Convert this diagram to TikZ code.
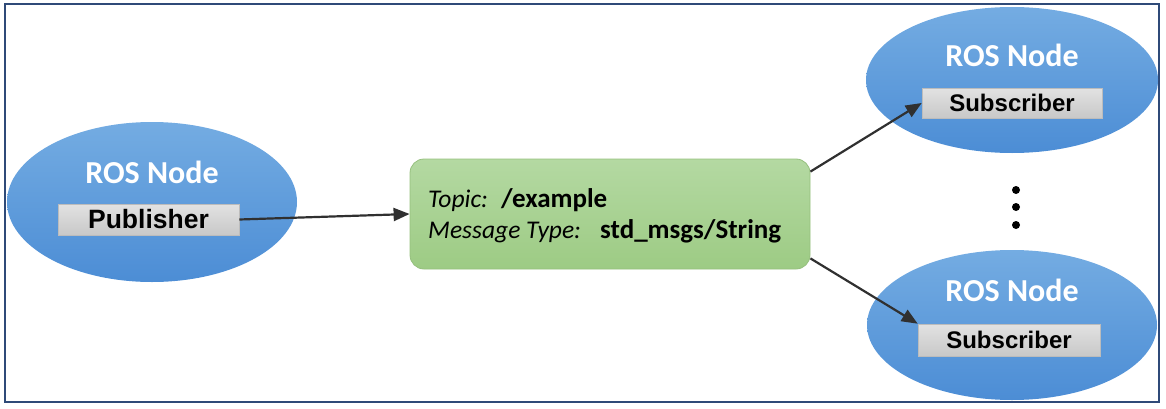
\documentclass[tikz,border=0pt]{standalone}
\usepackage{fontspec}
\setmainfont{Carlito}
\newfontfamily\arialfont{Liberation Sans}
\usetikzlibrary{shapes.geometric,arrows.meta}
\definecolor{frameblue}{HTML}{2F4A78}
\definecolor{bluetop}{HTML}{74ACE2}
\definecolor{bluebot}{HTML}{4C8DD5}
\definecolor{graytop}{HTML}{E2E2E2}
\definecolor{graybot}{HTML}{C8C8C8}
\definecolor{grayedge}{HTML}{BCBCBC}
\definecolor{greentop}{HTML}{B4D9A2}
\definecolor{greenbot}{HTML}{9DCB84}
\definecolor{greenedge}{HTML}{96C07E}
\definecolor{arrowgray}{HTML}{303030}
\tikzset{
  rosnode/.style={ellipse, inner sep=0pt, top color=bluetop, bottom color=bluebot, draw=none},
  rostitle/.style={text=white, font=\fontsize{32}{34}\selectfont\bfseries, inner sep=0pt},
  rolebox/.style={rectangle, inner sep=0pt, top color=graytop, bottom color=graybot, draw=grayedge, line width=0.6pt, font=\arialfont\fontsize{24}{26}\selectfont\bfseries, text=black},
  topicbox/.style={rectangle, rounded corners=14pt, inner sep=0pt, top color=greentop, bottom color=greenbot, draw=greenedge, line width=0.8pt},
  lbl/.style={anchor=base west, inner sep=0pt, font=\fontsize{25.5}{27}\selectfont\itshape},
  val/.style={anchor=base west, inner sep=0pt, font=\fontsize{27}{29}\selectfont\bfseries},
  conn/.style={draw=arrowgray, line width=2.2pt, -{Triangle[length=16pt,width=13pt]}},
  dotmark/.style={circle, fill=black, inner sep=0pt, minimum size=8pt}
}
\begin{document}
\begin{tikzpicture}[x=1pt,y=1pt]
\useasboundingbox (0,0) rectangle (1166,408);
\node[draw=frameblue, line width=1.6pt, rectangle, inner sep=0pt, minimum width=1154pt, minimum height=398pt] (frame) at (582,205) {};
% left node
\node[rosnode, minimum width=290pt, minimum height=160pt] (n1) at (152,206) {};
\node[rostitle] (t1) at (152,236) {ROS Node};
\node[rolebox, minimum width=181pt, minimum height=31pt, font=\arialfont\fontsize{26.5}{28}\selectfont\bfseries] (pub) at (148.5,188.5) {Publisher};
% topic
\node[topicbox, minimum width=400pt, minimum height=110pt] (topic) at (610,194) {};
\node[lbl] (tl1) at (428,201) {Topic:};
\node[val] (tv1) at (501,201) {/example};
\node[lbl] (tl2) at (428,170) {Message Type:};
\node[val] (tv2) at (600,170) {std\_msgs/String};
% top right
\node[rosnode, minimum width=292pt, minimum height=146pt] (n2) at (1012,328) {};
\node[rostitle] (t2) at (1012,353) {ROS Node};
\node[rolebox, minimum width=180pt, minimum height=30pt] (sub1) at (1012,305) {Subscriber};
% bottom right
\node[rosnode, minimum width=290pt, minimum height=150pt] (n3) at (1012,83) {};
\node[rostitle] (t3) at (1012,118) {ROS Node};
\node[rolebox, minimum width=182pt, minimum height=32pt] (sub2) at (1009,68) {Subscriber};
% dots
\node[dotmark] (d1) at (1016,218) {};
\node[dotmark] (d2) at (1016,201) {};
\node[dotmark] (d3) at (1016,183) {};
% connectors
\draw[conn] (pub.east) -- (topic.west);
\draw[conn] ([yshift=-13pt]topic.north east) -- (sub1.west);
\draw[conn] ([yshift=11pt]topic.south east) -- (sub2.north west);
\end{tikzpicture}
\end{document}
